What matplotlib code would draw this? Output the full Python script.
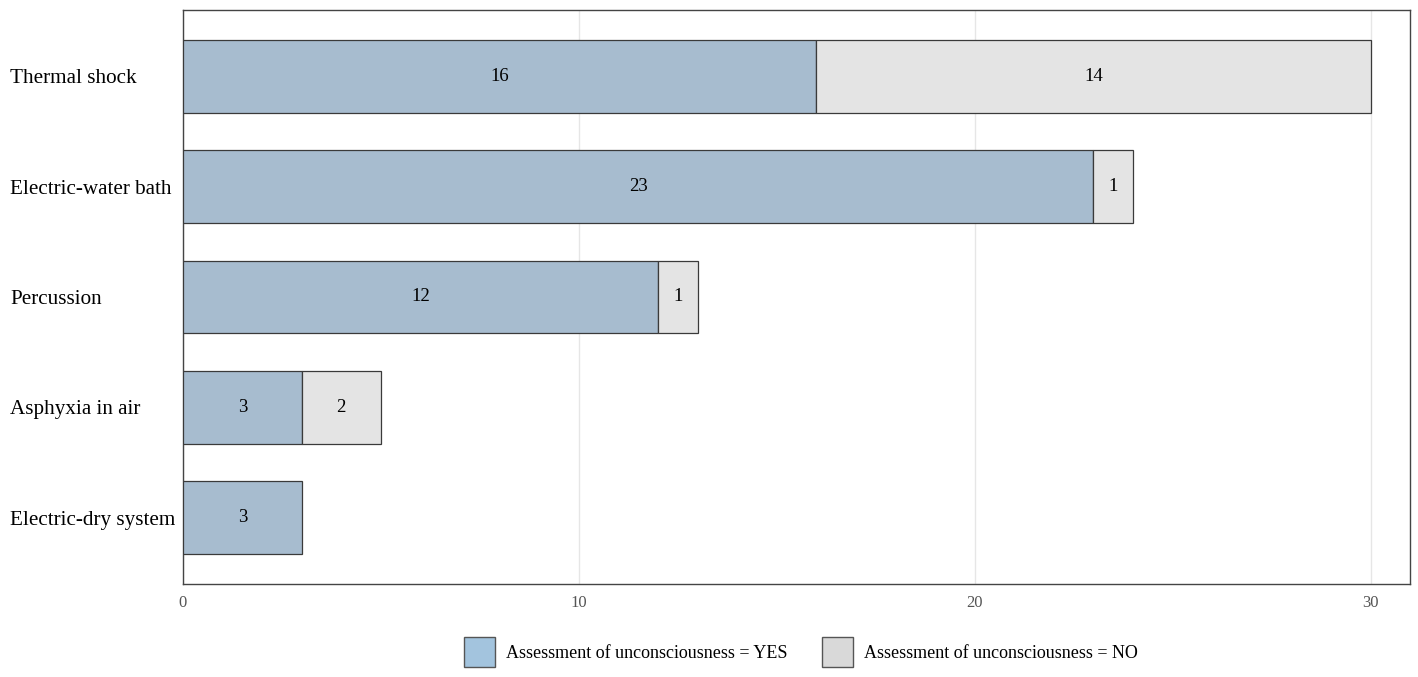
import matplotlib.pyplot as plt
from matplotlib.patches import Patch

plt.rcParams['font.family'] = ['Liberation Serif', 'DejaVu Serif']

methods = ['Thermal shock', 'Electric-water bath', 'Percussion', 'Asphyxia in air', 'Electric-dry system']
yes_counts = [16, 23, 12, 3, 3]
no_counts = [14, 1, 1, 2, 0]

yes_color = '#a7bccf'
no_color = '#e4e4e4'
edge = '#3a3a3a'

fig = plt.figure(figsize=(14.18, 6.77), dpi=100)
ax = fig.add_axes([0.129, 0.1374, 0.8655, 0.8478])

pos = list(range(len(methods)))
ax.barh(pos, yes_counts, height=0.66, color=yes_color, edgecolor=edge, linewidth=0.9, zorder=3)
for i, (y, n) in enumerate(zip(yes_counts, no_counts)):
    if n > 0:
        ax.barh(i, n, left=y, height=0.66, color=no_color, edgecolor=edge, linewidth=0.9, zorder=3)
    ax.text(y / 2, i, str(y), ha='center', va='center', fontsize=13.5, zorder=4)
    if n > 0:
        ax.text(y + n / 2, i, str(n), ha='center', va='center', fontsize=13.5, zorder=4)

ax.set_xlim(0, 31)
ax.set_ylim(4.6, -0.6)
ax.set_xticks([0, 10, 20, 30])
ax.set_yticks(pos)
ax.set_yticklabels(methods, fontsize=15.2, ha='left')
ax.tick_params(axis='y', length=0, pad=124.5)
ax.tick_params(axis='x', length=0, labelsize=12, labelcolor='#555555', pad=8)
ax.grid(axis='x', color='#e6e6e6', linewidth=1, zorder=0)
for s in ax.spines.values():
    s.set_color('#444444')
    s.set_linewidth(1)

handles = [Patch(facecolor='#a3c4de', edgecolor='#555555', label='Assessment of unconsciousness = YES'),
           Patch(facecolor='#d9d9d9', edgecolor='#555555', label='Assessment of unconsciousness = NO')]
fig.legend(handles=handles, loc='center', bbox_to_anchor=(0.565, 0.037), ncol=2, frameon=False,
           fontsize=13, handlelength=1.72, handleheight=2.2, columnspacing=1.9, handletextpad=0.6)

fig.savefig('out.png', dpi=100)
